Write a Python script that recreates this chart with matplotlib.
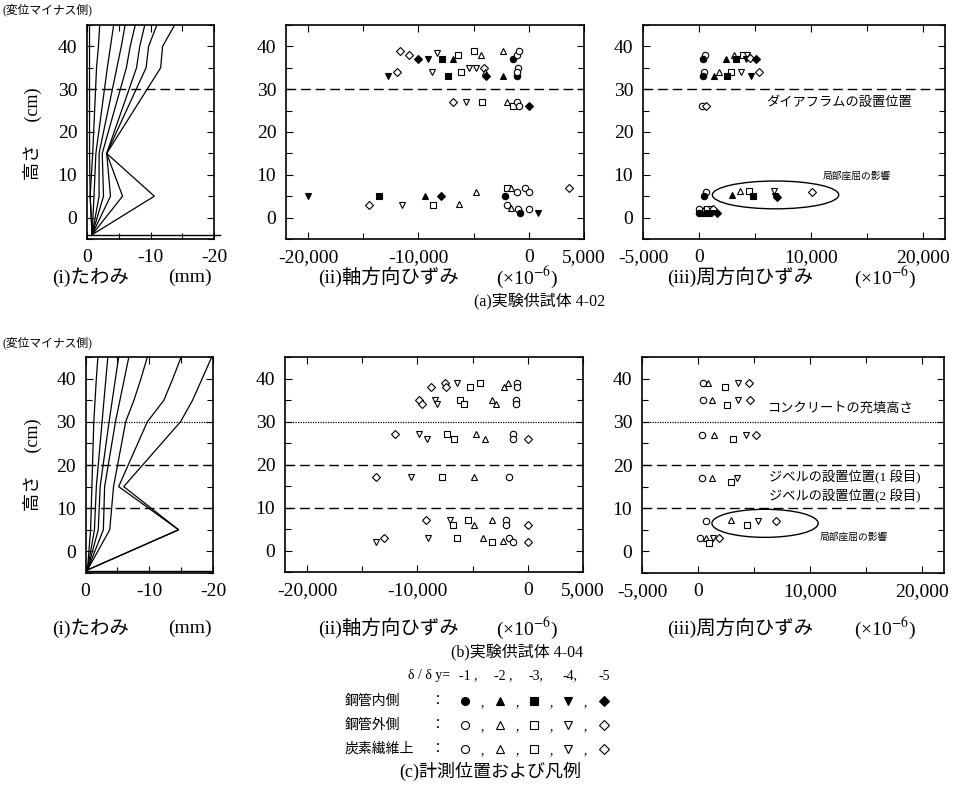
import numpy as np
import matplotlib
matplotlib.use('Agg')
import matplotlib.pyplot as plt
from matplotlib.patches import Ellipse
from matplotlib.ticker import MultipleLocator, FixedLocator, FuncFormatter

W, H = 972, 785

# --- (a) 4-02 : たわみ分布 (mm, 変位マイナス側を正で記録) ---
A1_h = [45, 40, 35, 15, 5, -4]
A1_curves = [
    [0.4, 0.4, 0.4, 0.4, 0.5, 0.8],
    [2.0, 1.8, 1.5, 0.9, 0.5, 0.8],
    [4.2, 3.7, 3.2, 1.4, 1.1, 0.8],
    [6.0, 5.4, 4.7, 1.9, 1.9, 0.8],
    [7.6, 6.8, 6.2, 2.4, 2.6, 0.8],
    [9.1, 8.3, 7.8, 3.1, 3.7, 0.8],
    [11.0, 9.7, 9.3, 3.1, 5.6, 0.8],
    [13.8, 11.9, 11.6, 3.1, 10.6, 0.8],
]

# --- (b) 4-04 : たわみ分布 ---
B1_h = [45, 40, 35, 30, 15, 5, -4.3]
B1_curves = [
    [1.95, 1.7, 1.5, 1.3, 1.0, 0.8, 0.3],
    [3.5, 3.2, 2.9, 2.6, 1.7, 1.4, 0.3],
    [5.2, 4.7, 4.2, 3.7, 2.3, 2.0, 0.3],
    [6.8, 6.1, 5.4, 4.7, 3.0, 2.8, 0.3],
    [9.7, 8.7, 7.6, 6.3, 4.4, 3.8, 0.3],
    [15.0, 13.7, 12.3, 9.7, 5.2, 14.6, 0.3],
    [19.8, 18.3, 16.8, 14.9, 6.0, 14.6, 0.3],
]

# 記号: c=○ t=△ s=□ v=▽ d=◇ (大文字=塗りつぶし, 鋼管内側)
# --- (a) 軸方向ひずみ ---
A2_x = [-11700, -10900, -10000, -9100, -8300, -7900, -6900, -6400, -5000, -4300,
        -2300, -1400, -1100, -900,
        -12800, -11900, -8800, -7300, -6100, -5400, -4800, -4100, -4000, -3900,
        -2300, -1100, -950, -1050,
        -6900, -5700, -4200, -2000, -1400, -1050, -900, 0,
        -20000, -13600, -14500, -11500, -9400, -8000, -8700, -6300, -4800, -2000,
        -1650, -1100, -2150, -2000, -1600, -950, -800, 0, -350, 0, 800, 3600]
A2_y = [39, 38, 37, 37, 38.5, 37, 37, 38, 39, 38,
        39, 37, 38, 39,
        33, 34, 34, 33, 34, 35, 35, 35, 34, 33,
        33, 33, 35, 34,
        27, 27, 27, 27, 26, 27, 26, 26,
        5, 5, 3, 3, 5, 5, 3, 3.2, 6, 7,
        6.9, 6, 5, 3, 2.2, 2, 1, 2, 7, 6, 1, 7]
A2_k = ("ddDVvSTsst" + "tCcc"
        + "VdvSsvvdtD" + "TCcc"
        + "dvstsccD"
        + "VSdvTDstts" + "tcCctcCcccVd")

# --- (a) 周方向ひずみ ---
A3_x = [500, 350, 2400, 3100, 3300, 3900, 4300, 4200, 4600, 5100,
        450, 350, 1350, 1800, 2850, 2550, 3800, 4700, 5350,
        300, 650,
        650, 450, 3000, 3650, 4450, 4850, 6700, 6800, 6950, 10100,
        0, 450, 750, 1050, 1250,
        0, 450, 850, 1200, 1600]
A3_y = [38, 37, 37, 38, 37, 38, 38, 37, 37.3, 37,
        34, 33, 33, 34, 34, 33, 34, 33, 34,
        26, 26,
        6, 5, 5.2, 6.3, 6.2, 5, 6.1, 5, 4.7, 6,
        2, 2, 2, 2, 2,
        1, 1, 1, 1, 1]
A3_k = ("cCTtSsvVdD" + "cCTtsSvVd" + "cd"
        + "cCTtsSvVDd" + "ctsvd" + "CTSVD")

# --- (b) 軸方向ひずみ ---
B2_x = [-8800, -7500, -7400, -6450, -5200, -4350, -2150, -1800, -950, -950,
        -9900, -9550, -8400, -8200, -6100, -5800, -3200, -2850, -1100, -1100,
        -12000, -9900, -9150, -7350, -6650, -4650, -3850, -1350, -1350, 0,
        -13750, -10550, -7750, -4850, -1750,
        -9250, -7050, -6800, -5450, -4850, -3250, -1950, -1950, 0,
        -13750, -13050, -9000, -6400, -4050, -3200, -2250, -1750, -1350, 0]
B2_y = [38, 39, 38, 39, 38, 39, 38, 39, 39, 38,
        35, 34, 35, 34, 35, 34, 35, 34, 35, 34,
        27, 27, 26, 27, 26, 27, 26, 27, 26, 26,
        17, 17, 17, 17, 17,
        7, 7, 6, 7, 6, 7, 7, 6, 6,
        2, 3, 3, 3, 3, 2, 2.3, 3, 2, 2]
B2_k = ("dddvssttcc" + "ddvvssttcc" + "dvvssttccd" + "dvstc"
        + "dvssttccd" + "vdvststccd")

# --- (b) 周方向ひずみ ---
B3_x = [450, 900, 2450, 3600, 4600,
        450, 1250, 2600, 3600, 4650,
        400, 1400, 3100, 4300, 5200,
        350, 1250, 3000, 3450,
        750, 3000, 4350, 5400, 6950,
        200, 750, 950, 1350, 1850]
B3_y = [39, 39, 38, 39, 39,
        35, 35, 34, 35, 35,
        27, 27, 26, 27, 27,
        17, 17, 16, 17,
        7, 7.2, 6, 7, 7,
        3, 3, 2, 3, 3]
B3_k = "ctsvd" + "ctsvd" + "ctsvd" + "ctsv" + "ctsvd" + "ctsvd"

LEG_ROWS = ['鋼管内側', '鋼管外側', '炭素繊維上']
LEG_KINDS = ['CTSVD', 'ctsvd', 'ctsvd']
LEG_STEPS = ['-1 ,', '-2 ,', '-3,', '-4,', '-5']

plt.rcParams['font.family'] = ['Liberation Serif', 'Noto Sans CJK JP']
plt.rcParams['mathtext.fontset'] = 'stix'
plt.rcParams['axes.unicode_minus'] = False

MK = {'c': 'o', 't': '^', 's': 's', 'v': 'v', 'd': 'D'}
MS = {'c': 4.6, 't': 4.8, 's': 4.4, 'v': 4.8, 'd': 4.2}

fig = plt.figure(figsize=(W / 100, H / 100), dpi=100)


def ax_px(l, t, r, b):
    return fig.add_axes([l / W, 1 - b / H, (r - l) / W, (b - t) / H])


def put(ax, x, y, k, scale=1.0):
    kk = k.lower()
    ax.plot(x, y, MK[kk], ms=MS[kk] * scale, mfc='k' if k.isupper() else 'white',
            mec='k', mew=0.8, clip_on=False, zorder=5)


def style(ax, xlim, xmaj, xmin_):
    ax.set_xlim(*xlim)
    ax.set_ylim(-5, 45)
    ax.yaxis.set_major_locator(FixedLocator([0, 10, 20, 30, 40]))
    ax.yaxis.set_minor_locator(MultipleLocator(5))
    ax.xaxis.set_major_locator(FixedLocator(xmaj))
    ax.xaxis.set_minor_locator(FixedLocator(xmin_))
    ax.xaxis.set_major_formatter(FuncFormatter(lambda v, p: f"{v:,.0f}"))
    ax.tick_params(which='both', direction='in', top=True, right=True,
                   labelsize=14, width=0.8, pad=7)
    ax.tick_params(which='major', length=5)
    ax.tick_params(which='minor', length=4)
    for s in ax.spines.values():
        s.set_linewidth(1.2)


def defl_panel(ax, hs, curves):
    style(ax, (0, -20), [0, -10, -20], [-5, -15])
    for c in curves:
        ax.plot([-v for v in c], hs, color='k', lw=0.9)


def strain_panel(ax, xs, ys, ks, xlim, xmaj, xmin_):
    style(ax, xlim, xmaj, xmin_)
    for x, y, k in zip(xs, ys, ks):
        put(ax, x, y, k)


dash = (0, (7, 3.5))
dot = (0, (1, 1))

# ---- (a) 4-02 ----
a1 = ax_px(87, 25, 214, 239)
defl_panel(a1, A1_h, A1_curves)
a1.axhline(30, color='k', lw=1.0, ls=dash)
a1.plot([0, -21], [-4, -4], color='k', lw=1.0, clip_on=False)

a2 = ax_px(286, 25, 584, 239)
strain_panel(a2, A2_x, A2_y, A2_k, (-22000, 5000), [-20000, -10000, 0, 5000], [-15000, -5000])
a2.axhline(30, color='k', lw=1.0, ls=dash)

a3 = ax_px(643, 25, 945, 239)
strain_panel(a3, A3_x, A3_y, A3_k, (-5000, 22000), [-5000, 0, 10000, 20000], [5000, 15000])
a3.axhline(30, color='k', lw=1.0, ls=dash)
a3.text(12500, 27, 'ダイアフラムの設置位置', fontsize=9.5, ha='center', va='center')
a3.text(14100, 9.8, '局部座屈の影響', fontsize=7, ha='center', va='center')
a3.add_patch(Ellipse((6850, 5.3), 11300, 6.5, fill=False, lw=1.0, ec='k'))

# ---- (b) 4-04 ----
b1 = ax_px(85.5, 357, 213, 573)
defl_panel(b1, B1_h, B1_curves)
b1.plot([0, -20], [-4.6, -4.6], color='k', lw=1.0)

b2 = ax_px(285, 357, 583, 572)
strain_panel(b2, B2_x, B2_y, B2_k, (-22000, 5000), [-20000, -10000, 0, 5000], [-15000, -5000])

b3 = ax_px(642, 357, 944, 573)
strain_panel(b3, B3_x, B3_y, B3_k, (-5000, 22000), [-5000, 0, 10000, 20000], [5000, 15000])
b3.text(12800, 33, 'コンクリートの充填高さ', fontsize=9.5, ha='center', va='center')
b3.text(13100, 17.2, 'ジベルの設置位置(1 段目)', fontsize=9.5, ha='center', va='center')
b3.text(13100, 12.9, 'ジベルの設置位置(2 段目)', fontsize=9.5, ha='center', va='center')
b3.text(13900, 3.3, '局部座屈の影響', fontsize=7, ha='center', va='center')
b3.add_patch(Ellipse((6000, 6.5), 9500, 6.5, fill=False, lw=1.0, ec='k'))

for ax in (b1, b2, b3):
    ax.axhline(30, color='k', lw=0.9, ls=dot)
    ax.axhline(20, color='k', lw=1.0, ls=dash)
    ax.axhline(10, color='k', lw=1.0, ls=dash)


def ftxt(x, y, s, **kw):
    fig.text(x / W, 1 - y / H, s, **kw)


for y0, yl, yc in [(10, 134, 277), (343, 465, 628)]:
    ftxt(2, y0, '(変位マイナス側)', fontsize=8.5, va='center', ha='left')
    ftxt(32, yl, '高さ　 (cm)', fontsize=13, rotation=90, va='center', ha='center')
    ftxt(52, yc, '(i)たわみ', fontsize=14, ha='left', va='center')
    ftxt(168, yc, '(mm)', fontsize=14, ha='left', va='center')
    ftxt(318, yc, '(ii)軸方向ひずみ', fontsize=14, ha='left', va='center')
    ftxt(496, yc, '(×10$^{-6}$)', fontsize=14, ha='left', va='center')
    ftxt(667, yc, '(iii)周方向ひずみ', fontsize=14, ha='left', va='center')
    ftxt(854, yc, '(×10$^{-6}$)', fontsize=14, ha='left', va='center')

ftxt(540, 301, '(a)実験供試体 4-02', fontsize=11.5, ha='center', va='center')
ftxt(517, 652, '(b)実験供試体 4-04', fontsize=11.5, ha='center', va='center')

# ---- (c) 凡例 ----
ov = fig.add_axes([0, 0, 1, 1])
ov.set_xlim(0, W)
ov.set_ylim(H, 0)
ov.axis('off')

col_x = [465, 500, 534, 568, 604]
row_y = [701, 725, 749]
ov.text(450, 676, 'δ / δ y=', fontsize=10, ha='right', va='center')
for cx, s in zip(col_x, LEG_STEPS):
    ov.text(cx - 6, 676, s, fontsize=10, ha='left', va='center')
for ry, lab, kinds in zip(row_y, LEG_ROWS, LEG_KINDS):
    ov.text(345, ry, lab, fontsize=10, ha='left', va='center')
    ov.text(437, ry, '：', fontsize=10, ha='center', va='center')
    for i, (cx, k) in enumerate(zip(col_x, kinds)):
        put(ov, cx, ry, k, scale=1.25)
        if i < 4:
            ov.text(cx + 17, ry + 2, ',', fontsize=10, ha='center', va='center')
ov.text(490, 771, '(c)計測位置および凡例', fontsize=13, ha='center', va='center')

fig.savefig('out.png', dpi=100)
